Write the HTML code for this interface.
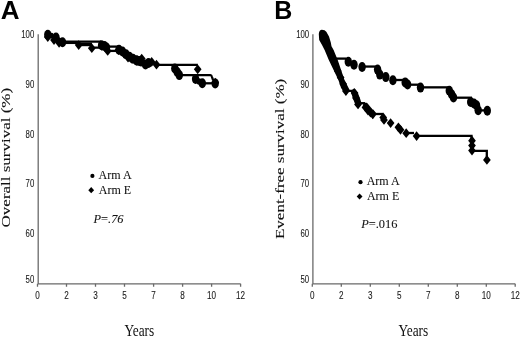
<!DOCTYPE html>
<html><head><meta charset="utf-8">
<style>
html,body{margin:0;padding:0;background:#fff;width:520px;height:337px;overflow:hidden}
svg{display:block;filter:grayscale(1) blur(0.3px)}
.tk{font-family:"Liberation Sans",sans-serif;font-size:11px;fill:#1a1a1a;stroke:#1a1a1a;stroke-width:0.1px}
.ti{font-family:"Liberation Serif",serif;font-size:17px;fill:#111;stroke:#111;stroke-width:0.12px}
.lg{font-family:"Liberation Serif",serif;font-size:12px;fill:#111;stroke:#111;stroke-width:0.08px}
.pv{font-family:"Liberation Serif",serif;font-size:12.4px;fill:#111;stroke:#111;stroke-width:0.08px}
.pl{font-family:"Liberation Sans",sans-serif;font-weight:bold;font-size:25px;fill:#000}
</style></head>
<body>
<svg width="520" height="337" viewBox="0 0 520 337">
<defs>
<path id="dm" d="M0,-4.85 L3.85,0 L0,4.9 L-3.85,0 Z"/>
<ellipse id="ce" cx="0" cy="0" rx="3.7" ry="5"/>
<path id="dl" d="M0,-3.1 L2.9,0 L0,3.1 L-2.9,0 Z"/>
</defs>
<rect width="520" height="337" fill="#fff"/>

<!-- Panel labels -->
<text class="pl" transform="translate(0.65,18.8) scale(1.04,1)">A</text>
<text class="pl" transform="translate(274.3,18.8) scale(1.0,1)">B</text>

<!-- ===== Panel A axes ===== -->
<g stroke="#6a6a6a" stroke-width="1.3" fill="none">
<path d="M38.2,34.2 V283.8 H240.6"/>
<path d="M37.5,283.8 V286.8 M66.5,283.8 V286.8 M95.5,283.8 V286.8 M124.5,283.8 V286.8 M153.6,283.8 V286.8 M182.6,283.8 V286.8 M211.6,283.8 V286.8 M240.6,283.8 V286.8"/>
</g>
<g class="tk" text-anchor="end">
<text transform="translate(34.25,37.8) scale(0.71,1)">100</text>
<text transform="translate(34.25,87.7) scale(0.71,1)">90</text>
<text transform="translate(34.25,137.7) scale(0.71,1)">80</text>
<text transform="translate(34.25,186.7) scale(0.71,1)">70</text>
<text transform="translate(34.25,237) scale(0.71,1)">60</text>
<text transform="translate(34.25,282.7) scale(0.71,1)">50</text>
</g>
<g class="tk" text-anchor="middle">
<text transform="translate(37.5,298.6) scale(0.74,1)">0</text>
<text transform="translate(66.5,298.6) scale(0.74,1)">2</text>
<text transform="translate(95.5,298.6) scale(0.74,1)">3</text>
<text transform="translate(124.5,298.6) scale(0.74,1)">5</text>
<text transform="translate(153.6,298.6) scale(0.74,1)">7</text>
<text transform="translate(182.6,298.6) scale(0.74,1)">8</text>
<text transform="translate(211.6,298.6) scale(0.74,1)">10</text>
<text transform="translate(240.6,298.6) scale(0.74,1)">12</text>
</g>
<text class="ti" transform="translate(10.0,227.4) rotate(-90) scale(1,0.76)">Overall survival (%)</text>
<text class="ti" transform="translate(124.4,335.7) scale(0.765,1)" style="font-size:17.5px;stroke:none">Years</text>

<!-- legend A -->
<circle cx="92.4" cy="175.9" r="2.1" fill="#000"/>
<use href="#dl" x="91.2" y="190.2" fill="#000"/>
<text class="lg" x="98.6" y="178.8">Arm A</text>
<text class="lg" x="98.8" y="193.5">Arm E</text>
<text class="pv" x="93.5" y="222.7"><tspan font-style="italic">P</tspan>=<tspan font-style="italic">.76</tspan></text>

<!-- ===== Panel B axes ===== -->
<g stroke="#6a6a6a" stroke-width="1.3" fill="none">
<path d="M312.9,34.2 V283.8 H515.2"/>
<path d="M312.3,283.8 V286.8 M341.3,283.8 V286.8 M370.3,283.8 V286.8 M399.3,283.8 V286.8 M428.3,283.8 V286.8 M457.3,283.8 V286.8 M486.3,283.8 V286.8 M515.2,283.8 V286.8"/>
</g>
<g class="tk" text-anchor="end">
<text transform="translate(309.15,37.8) scale(0.71,1)">100</text>
<text transform="translate(309.15,87.7) scale(0.71,1)">90</text>
<text transform="translate(309.15,137.7) scale(0.71,1)">80</text>
<text transform="translate(309.15,186.7) scale(0.71,1)">70</text>
<text transform="translate(309.15,237) scale(0.71,1)">60</text>
<text transform="translate(309.15,282.7) scale(0.71,1)">50</text>
</g>
<g class="tk" text-anchor="middle">
<text transform="translate(312.3,298.6) scale(0.74,1)">0</text>
<text transform="translate(341.3,298.6) scale(0.74,1)">2</text>
<text transform="translate(370.3,298.6) scale(0.74,1)">3</text>
<text transform="translate(399.3,298.6) scale(0.74,1)">5</text>
<text transform="translate(428.3,298.6) scale(0.74,1)">7</text>
<text transform="translate(457.3,298.6) scale(0.74,1)">8</text>
<text transform="translate(486.3,298.6) scale(0.74,1)">10</text>
<text transform="translate(515.2,298.6) scale(0.74,1)">12</text>
</g>
<text class="ti" transform="translate(284.0,239) rotate(-90) scale(1,0.76)">Event-free survival (%)</text>
<text class="ti" transform="translate(398.4,335.7) scale(0.765,1)" style="font-size:17.5px;stroke:none">Years</text>

<!-- legend B -->
<circle cx="360.5" cy="182.2" r="2.1" fill="#000"/>
<use href="#dl" x="359.6" y="196.5" fill="#000"/>
<text class="lg" x="366.7" y="185.4">Arm A</text>
<text class="lg" x="366.9" y="199.8">Arm E</text>
<text class="pv" x="361.2" y="228.4"><tspan font-style="italic">P</tspan>=.016</text>

<!-- ===== Panel A curves ===== -->
<g stroke="#000" stroke-width="2.3" fill="none">
<path d="M62,41.6 H101"/>
<path d="M62,42.9 H79.5"/>
<path d="M79,44.4 H92" stroke-width="3.6"/>
<path d="M91.8,46 V47.6 H101"/>
<path d="M108,46.6 H119"/>
<path d="M108,50.9 H119"/>
<path d="M156,64.85 H197.9"/>
<path d="M180,75.2 H210.5 Q211.5,75.2 212,77 L213,80"/>
<path d="M202,83.3 H212"/>
</g>
<g fill="#000">
<!-- cluster 1 -->
<use href="#ce" x="47.8" y="34.7"/>
<use href="#dm" x="47.8" y="37"/>
<use href="#ce" x="56" y="37.5"/>
<ellipse cx="51.6" cy="35.6" rx="2.2" ry="2.8"/>
<ellipse cx="59.5" cy="40.2" rx="2" ry="2.6"/>
<use href="#dm" x="54" y="40"/>
<use href="#ce" x="62.5" y="42.2"/>
<use href="#dm" x="59.1" y="42.8"/>
<!-- hanging diamonds -->
<use href="#dm" x="78.7" y="45.1"/>
<use href="#dm" x="91.8" y="48.2"/>
<!-- cluster 2 -->
<use href="#ce" x="101.6" y="45.2"/>
<use href="#ce" x="104.5" y="46"/>
<use href="#ce" x="106.5" y="47.5"/>
<use href="#dm" x="102" y="46"/>
<use href="#dm" x="107.7" y="50.9"/>
<!-- cluster 3 band -->
<use href="#ce" x="119" y="49.8"/>
<use href="#ce" x="122.5" y="51.5"/>
<use href="#ce" x="126" y="54.3"/>
<use href="#ce" x="129.5" y="56.8"/>
<use href="#ce" x="133" y="58.8"/>
<use href="#ce" x="136.5" y="60.2"/>
<use href="#ce" x="139.5" y="61"/>
<use href="#ce" x="137" y="60.8"/>
<use href="#ce" x="140.8" y="61.5"/>
<use href="#ce" x="145.5" y="64.5"/>
<use href="#ce" x="148.5" y="63"/>
<use href="#dm" x="118.5" y="50"/>
<use href="#dm" x="124" y="53.5"/>
<use href="#dm" x="128" y="57.5"/>
<use href="#dm" x="131.5" y="58.5"/>
<use href="#dm" x="141.7" y="58.5"/>
<use href="#dm" x="141.5" y="61.5"/>
<use href="#dm" x="151.7" y="61.9"/>
<use href="#dm" x="156.5" y="64.7"/>
<!-- cluster 4 -->
<use href="#ce" x="174.8" y="68.5"/>
<use href="#ce" x="177.2" y="72"/>
<use href="#ce" x="179.3" y="75.1"/>
<use href="#dm" x="197.7" y="69.3"/>
<!-- cluster 5 -->
<use href="#ce" x="195.6" y="79"/>
<use href="#ce" x="202.3" y="83.2"/>
<ellipse cx="199" cy="81.5" rx="2.5" ry="3.2"/>
<use href="#ce" x="215.2" y="83.4"/>
<use href="#dm" x="215.3" y="82.5"/>
</g>

<!-- ===== Panel B curves ===== -->
<g fill="#000">
<path d="M318.8,33.9 Q319.3,29.7 321.9,29.7 Q325,29.7 326.3,31.8 L329,36.5 L330.8,42.4 L331.5,46.2 L333.6,50 L337.7,60 L341.1,70 L344.5,80 L348.6,88 L349.6,89.9 L345.9,95.3 L344.5,93 L341.1,88 L338.4,80 L333.6,70 L328.8,60 L324.6,50.1 L321.9,44.7 L319.2,40.1 Z"/>
</g>
<g stroke="#000" stroke-width="2.3" fill="none">
<path d="M336,58.6 H346"/>
<path d="M362,66.55 H376"/>
<path d="M395,80 H403"/>
<path d="M409,84.7 H419"/>
<path d="M422,87.35 H450"/>
<path d="M455,97.7 H472"/>
<path d="M480,110.4 H485"/>
<path d="M347,90.9 H354"/>
<path d="M358,103.2 H365"/>
<path d="M372,114 H383"/>
<path d="M409,133 H414"/>
<path d="M418,135.9 H471.5 V145"/>
<path d="M472,150.9 H486.8 V158"/>
</g>
<g fill="#000">
<!-- B arm A ellipses -->
<use href="#ce" x="348.3" y="61.8"/>
<use href="#ce" x="354" y="64.8"/>
<use href="#ce" x="362.1" y="67"/>
<use href="#ce" x="377.6" y="69.6"/>
<use href="#ce" x="379.8" y="74.6"/>
<use href="#ce" x="385.8" y="77.1"/>
<use href="#ce" x="392.9" y="80.2"/>
<use href="#ce" x="405.2" y="82.4"/>
<use href="#ce" x="407.6" y="84.5"/>
<use href="#ce" x="420.5" y="87.6"/>
<use href="#ce" x="449.3" y="90.8"/>
<use href="#ce" x="451.6" y="94.3"/>
<use href="#ce" x="453.5" y="97.5"/>
<use href="#ce" x="470.7" y="102"/>
<use href="#ce" x="474" y="103.5"/>
<use href="#ce" x="476.5" y="105.3"/>
<use href="#ce" x="478.2" y="110.2"/>
<use href="#ce" x="487.3" y="110.8"/>
<!-- B arm E diamonds -->
<use href="#dm" x="334.9" y="64"/>
<use href="#dm" x="337.8" y="71"/>
<use href="#dm" x="340.6" y="77.5"/>
<use href="#dm" x="343.2" y="84"/>
<use href="#dm" x="345.9" y="91.1"/>
<path d="M350.7,90.9 L354.2,88.2 L357.8,92.7 L360,98.4 L361.3,102.4 L358.2,108.7 L354.7,102.9 L352.4,96.7 Z"/>
<use href="#dm" x="354.6" y="93"/>
<use href="#dm" x="356" y="98"/>
<use href="#dm" x="358" y="104.4"/>
<path d="M362.6,106.6 L363.6,103 L367,102.7 L375.5,113 L372.8,119.3 Z"/>
<use href="#dm" x="365.5" y="107.4"/>
<use href="#dm" x="368" y="110.5"/>
<use href="#dm" x="370.5" y="112.5"/>
<use href="#dm" x="373" y="114"/>
<use href="#dm" x="383.2" y="117.4"/>
<use href="#dm" x="384" y="119.9"/>
<use href="#dm" x="390.6" y="123.1"/>
<use href="#dm" x="398.4" y="127.3"/>
<use href="#dm" x="400.5" y="129.8"/>
<use href="#dm" x="406.2" y="133.2"/>
<use href="#dm" x="416.6" y="136"/>
<use href="#dm" x="472" y="140.7"/>
<use href="#dm" x="472" y="145.6"/>
<use href="#dm" x="472" y="150.6"/>
<use href="#dm" x="486.9" y="159.9"/>
</g>
</svg>
</body></html>
